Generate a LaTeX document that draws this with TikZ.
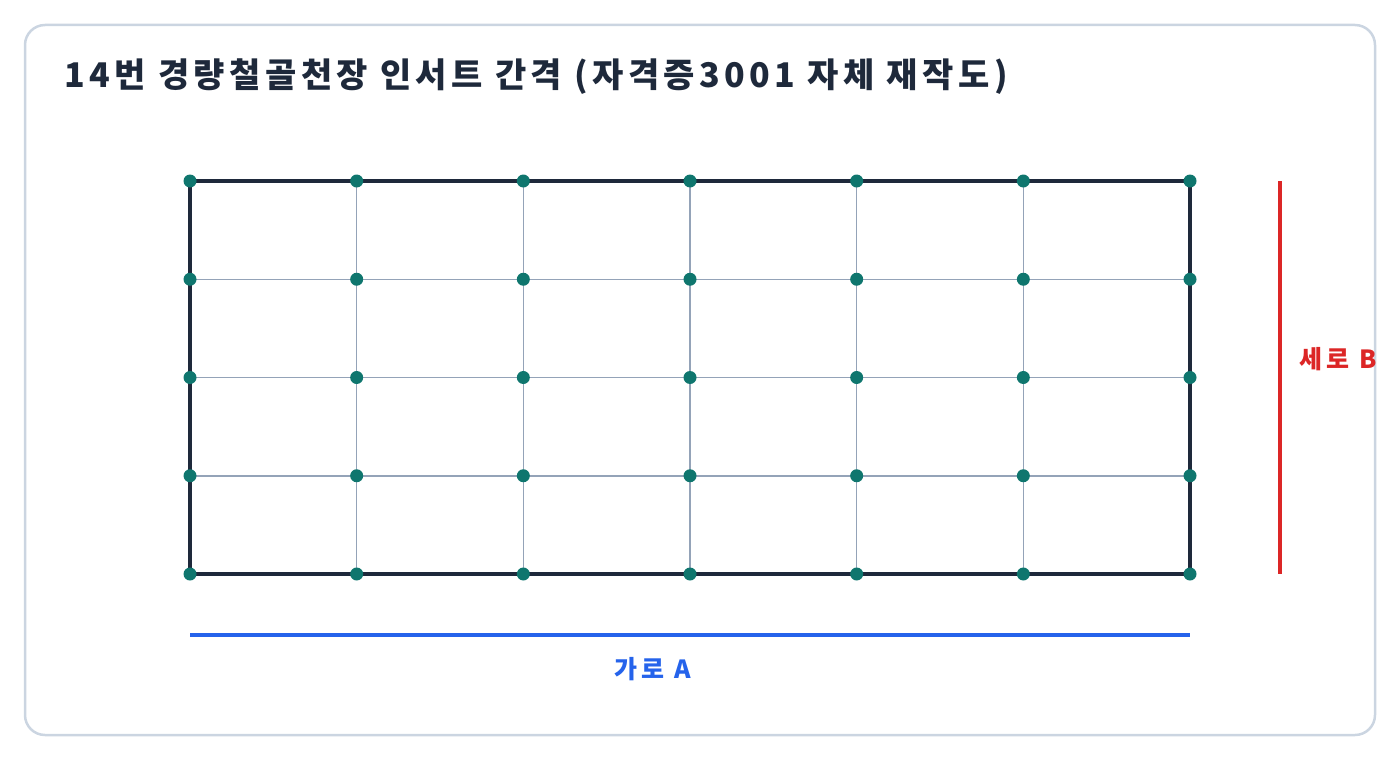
\documentclass[tikz,border=0pt]{standalone}
\usepackage{fontspec}
\setmainfont{Noto Sans CJK KR}
\newfontfamily\titlefont[LetterSpace=13]{Noto Sans CJK KR}
\newfontfamily\labelfont[LetterSpace=16]{Noto Sans CJK KR}
\usepackage{tikz}

\definecolor{edgeline}{HTML}{CBD5E1}
\definecolor{frameline}{HTML}{1E293B}
\definecolor{gridline}{HTML}{94A3B8}
\definecolor{insert}{HTML}{0F766E}
\definecolor{widthline}{HTML}{2563EB}
\definecolor{heightline}{HTML}{DC2626}

\tikzset{
  insertdot/.style={circle,fill=insert,inner sep=0pt,minimum size=13pt},
  gridbar/.style={draw=gridline,line width=1.5pt},
  framebar/.style={draw=frameline,line width=4pt},
  dimlabel/.style={font=\labelfont\fontsize{25}{30}\selectfont\bfseries},
}

\begin{document}
\begin{tikzpicture}[x=1pt,y=-1pt,font=\bfseries]
        \useasboundingbox (0,0) rectangle (1400,760);
        \draw [edgeline,line width=2.5pt,rounded corners=20pt] (25,25) rectangle (1375,735);
        \node (title) at (61,77) [anchor=west,text=frameline,font=\titlefont\fontsize{34}{40}\selectfont\bfseries] {14번 경량철골천장 인서트 간격 (자격증3001 자체 재작도)};
        % grid lines
        \foreach \i in {0,...,6}
          \foreach \j in {0,...,4}
            \coordinate (p-\i-\j) at ({190+\i*1000/6},{181+\j*393/4});
        \foreach \i in {1,...,5}
          \draw [gridbar] (p-\i-0) -- (p-\i-4);
        \foreach \j in {1,...,3}
          \draw [gridbar] (p-0-\j) -- (p-6-\j);
        \draw [framebar] (p-0-0) rectangle (p-6-4);
        % inserts
        \foreach \i in {0,...,6}
          \foreach \j in {0,...,4}
            \node (d-\i-\j) at (p-\i-\j) [insertdot] {};
        % dimensions
        \coordinate (A1) at (190,635);
        \coordinate (A2) at (1190,635);
        \coordinate (B1) at (1280,181);
        \coordinate (B2) at (1280,574);
        \draw [widthline,line width=3.5pt] (A1) -- (A2);
        \draw [heightline,line width=3.5pt] (B1) -- (B2);
        \node (lA) at (653,669) [text=widthline,dimlabel] {가로 A};
        \node (lB) at (1296,359) [anchor=west,text=heightline,dimlabel] {세로 B};
      \end{tikzpicture}
\end{document}
